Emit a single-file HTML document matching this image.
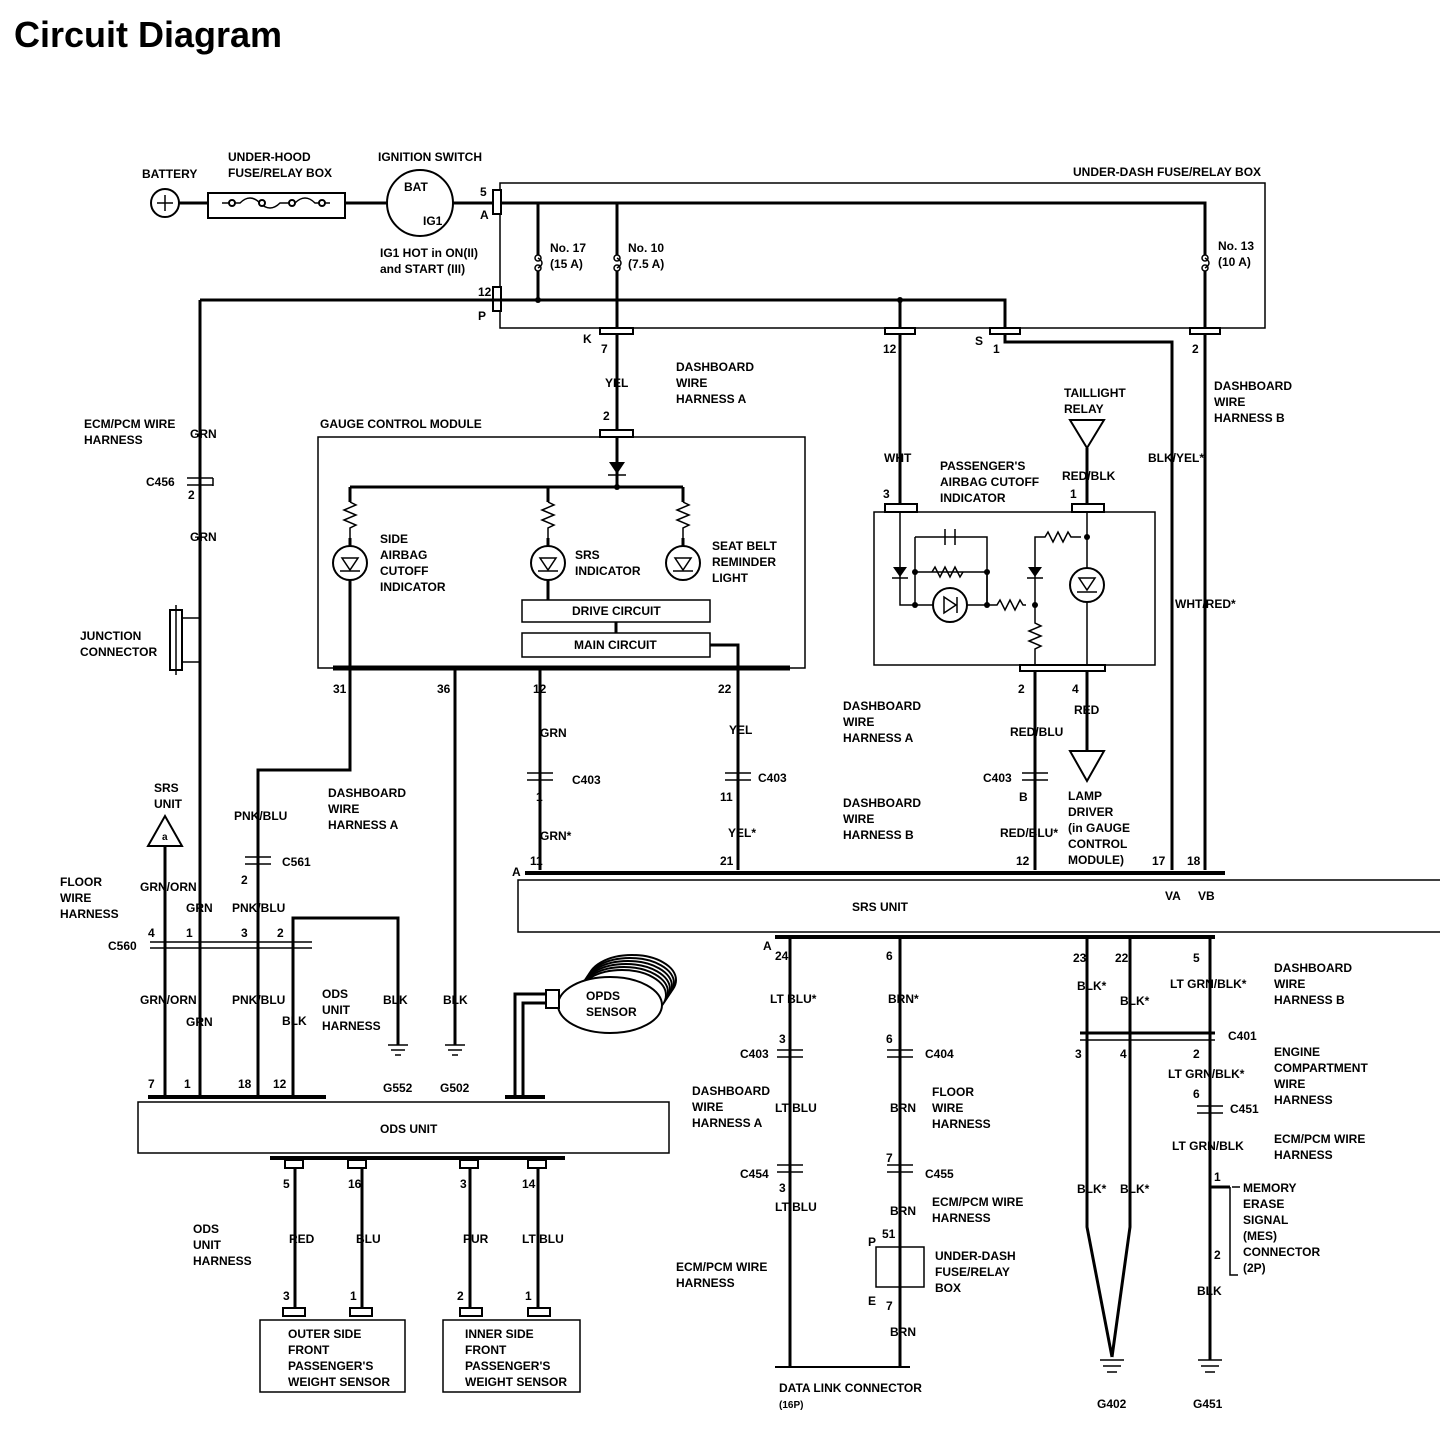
<!DOCTYPE html>
<html><head><meta charset="utf-8"><style>
body{margin:0;background:#fff}
svg{display:block}
text{font-family:"Liberation Sans",sans-serif;font-weight:bold;font-size:12px;fill:#000}
.w{stroke:#000;stroke-width:3;fill:none}
.t{stroke:#000;stroke-width:1.5;fill:none}
.b{stroke:#000;stroke-width:2;fill:#fff}
</style></head><body>
<svg width="1440" height="1454" viewBox="0 0 1440 1454" xmlns="http://www.w3.org/2000/svg">
<text x="14" y="47" style="font-size:36px">Circuit Diagram</text>

<!-- battery & top -->
<text x="142" y="178">BATTERY</text>
<circle cx="165" cy="203" r="14" class="b"/>
<path d="M157 203h16M165 195v16" class="t"/>
<text x="228" y="161">UNDER-HOOD</text><text x="228" y="177">FUSE/RELAY BOX</text>
<rect x="208" y="193" width="137" height="25" class="b"/>
<path d="M179 203h29M345 203h42" class="w"/>
<path d="M222 203h18q10-10 20 0q10 10 20 0h15q10-10 20 0h15" class="t"/>
<circle cx="232" cy="203" r="3" class="b"/><circle cx="262" cy="203" r="3" class="b"/><circle cx="292" cy="203" r="3" class="b"/><circle cx="322" cy="203" r="3" class="b"/>
<text x="378" y="161">IGNITION SWITCH</text>
<circle cx="420" cy="203" r="33" class="b"/>
<text x="404" y="191">BAT</text><text x="423" y="225">IG1</text>
<text x="380" y="257">IG1 HOT in ON(II)</text><text x="380" y="273">and START (III)</text>
<path d="M453 203h47" class="w"/>
<text x="480" y="196">5</text><text x="480" y="219">A</text>
<text x="1073" y="176">UNDER-DASH FUSE/RELAY BOX</text>
<rect x="500" y="183" width="765" height="145" class="t"/>
<rect x="493" y="190" width="8" height="24" class="b"/>
<path d="M500 203h705v52M538 203v52M617 203v52" class="w"/>
<g class="t"><circle cx="538" cy="258" r="3"/><circle cx="538" cy="268" r="3"/><circle cx="617" cy="258" r="3"/><circle cx="617" cy="268" r="3"/><circle cx="1205" cy="258" r="3"/><circle cx="1205" cy="268" r="3"/>
<path d="M538 258q8 5 0 10M617 258q8 5 0 10M1205 258q8 5 0 10"/></g>
<path d="M538 271v29M617 271v60M1205 271v60" class="w"/>
<text x="550" y="252">No. 17</text><text x="550" y="268">(15 A)</text>
<text x="628" y="252">No. 10</text><text x="628" y="268">(7.5 A)</text>
<text x="1218" y="250">No. 13</text><text x="1218" y="266">(10 A)</text>
<text x="478" y="296">12</text><text x="478" y="320">P</text>
<rect x="493" y="287" width="8" height="24" class="b"/>
<path d="M200 300h805v30M200 300v797" class="w"/>
<circle cx="538" cy="300" r="3" fill="#000"/><circle cx="900" cy="300" r="3" fill="#000"/>
<path d="M900 300v30" class="w"/>
<rect x="600" y="328" width="33" height="6" class="b"/><rect x="885" y="328" width="30" height="6" class="b"/><rect x="990" y="328" width="30" height="6" class="b"/><rect x="1190" y="328" width="30" height="6" class="b"/>
<text x="583" y="343">K</text><text x="601" y="353">7</text><text x="883" y="353">12</text><text x="975" y="345">S</text><text x="993" y="353">1</text><text x="1192" y="353">2</text>
<path d="M617 334v96M900 334v170M1005 334v8h167v528M1205 334v536" class="w"/>
<text x="605" y="387">YEL</text>
<text x="676" y="371">DASHBOARD</text><text x="676" y="387">WIRE</text><text x="676" y="403">HARNESS A</text>
<text x="603" y="420">2</text>
<text x="1214" y="390">DASHBOARD</text><text x="1214" y="406">WIRE</text><text x="1214" y="422">HARNESS B</text>
<text x="1148" y="462">BLK/YEL*</text>
<text x="1175" y="608">WHT/RED*</text>

<!-- ECM left -->
<text x="84" y="428">ECM/PCM WIRE</text><text x="84" y="444">HARNESS</text>
<text x="190" y="438">GRN</text>
<path d="M187 478h26M187 485h26" class="t"/><path d="M213 478v8" class="t"/>
<text x="146" y="486">C456</text><text x="188" y="499">2</text>
<text x="190" y="541">GRN</text>
<text x="80" y="640">JUNCTION</text><text x="80" y="656">CONNECTOR</text>
<rect x="170" y="610" width="12" height="60" class="b"/><path d="M176 605v70M182 618h18v44h-18" class="t"/>

<!-- gauge control module -->
<text x="320" y="428">GAUGE CONTROL MODULE</text>
<rect x="318" y="437" width="487" height="231" class="t"/>
<rect x="600" y="430" width="33" height="7" class="b"/>
<path d="M617 437v50" class="w"/>
<path d="M609 462h16l-8 12z" fill="#000"/><path d="M608 475h18" class="t"/>
<path d="M350 487h333M350 487v15M548 487v15M683 487v15" class="w"/>
<circle cx="617" cy="487" r="3" fill="#000"/>
<path d="M350 502l6 3-12 5 12 5-12 5 12 5-6 3v10M548 502l6 3-12 5 12 5-12 5 12 5-6 3v10M683 502l6 3-12 5 12 5-12 5 12 5-6 3v10" class="t"/>
<circle cx="350" cy="563" r="17" class="b"/><circle cx="548" cy="563" r="17" class="b"/><circle cx="683" cy="563" r="17" class="b"/>
<path d="M342 558h16l-8 12zM540 558h16l-8 12zM675 558h16l-8 12z" class="t"/><path d="M340 571h20M538 571h20M673 571h20" class="t"/>
<path d="M350 546v-8M548 546v-8M683 546v-8M350 580v88M548 580v20" class="w"/>
<text x="380" y="543">SIDE</text><text x="380" y="559">AIRBAG</text><text x="380" y="575">CUTOFF</text><text x="380" y="591">INDICATOR</text>
<text x="575" y="559">SRS</text><text x="575" y="575">INDICATOR</text>
<text x="712" y="550">SEAT BELT</text><text x="712" y="566">REMINDER</text><text x="712" y="582">LIGHT</text>
<rect x="522" y="600" width="188" height="22" class="t"/><text x="572" y="615">DRIVE CIRCUIT</text>
<rect x="522" y="633" width="188" height="24" class="t"/><text x="574" y="649">MAIN CIRCUIT</text>
<path d="M616 622v11M710 645h28v23" class="w"/>
<path d="M333 668h457" stroke="#000" stroke-width="5"/>
<text x="333" y="693">31</text><text x="437" y="693">36</text><text x="533" y="693">12</text><text x="718" y="693">22</text>
<path d="M350 668v102h-92v327M455 668v377M540 668v202M738 668v202" class="w"/>
<text x="540" y="737">GRN</text><text x="729" y="734">YEL</text>
<path d="M527 773h26M527 780h26M725 773h26M725 780h26" class="t"/>
<text x="572" y="784">C403</text><text x="758" y="782">C403</text>
<text x="536" y="801">1</text><text x="720" y="801">11</text>
<text x="540" y="840">GRN*</text><text x="728" y="837">YEL*</text>
<text x="530" y="865">11</text><text x="720" y="865">21</text>
<text x="234" y="820">PNK/BLU</text>
<text x="328" y="797">DASHBOARD</text><text x="328" y="813">WIRE</text><text x="328" y="829">HARNESS A</text>
<path d="M245 857h26M245 864h26" class="t"/><text x="282" y="866">C561</text><text x="241" y="884">2</text>
<text x="232" y="912">PNK/BLU</text>

<!-- airbag indicator -->
<text x="884" y="462">WHT</text><text x="883" y="498">3</text>
<text x="940" y="470">PASSENGER'S</text><text x="940" y="486">AIRBAG CUTOFF</text><text x="940" y="502">INDICATOR</text>
<text x="1064" y="397">TAILLIGHT</text><text x="1064" y="413">RELAY</text>
<path d="M1070 420h34l-17 28z" class="b"/>
<path d="M1087 448v57" class="w"/>
<text x="1062" y="480">RED/BLK</text><text x="1070" y="498">1</text>
<rect x="874" y="512" width="281" height="153" class="t"/>
<rect x="885" y="504" width="32" height="8" class="b"/><rect x="1072" y="504" width="32" height="8" class="b"/>
<path d="M900 512v93h87v-50M915 605v-50M915 537h72v18M915 537v18M987 555v17h-72" class="t" stroke-width="2"/>
<path d="M987 572v33" class="t" stroke-width="2"/>
<path d="M945 529v16M955 529v16" class="t" stroke-width="3"/>
<path d="M932 572l3-5 5 10 5-10 5 10 5-10 5 10 3-5" class="t"/>
<path d="M893 567h14l-7 10zM1028 567h14l-7 10z" fill="#000"/><path d="M892 578h16M1027 578h16" class="t"/>
<circle cx="950" cy="605" r="17" class="b"/><path d="M944 597v16l12-8z M957 597v16" class="t"/>
<path d="M987 605h10l3-5 5 10 5-10 5 10 5-10 3 5h3M1035 605v-68h10l3-5 5 10 5-10 5 10 5-10 3 5h10" class="t" stroke-width="2"/>
<path d="M1035 605v18l6 3-12 5 12 5-12 5 12 5-6 3v18M1087 512v160" class="t" stroke-width="2"/>
<circle cx="915" cy="572" r="3" fill="#000"/><circle cx="987" cy="572" r="3" fill="#000"/><circle cx="915" cy="605" r="3" fill="#000"/><circle cx="987" cy="605" r="3" fill="#000"/><circle cx="1035" cy="605" r="3" fill="#000"/><circle cx="1087" cy="537" r="3" fill="#000"/>
<circle cx="1087" cy="585" r="17" class="b"/><path d="M1079 578h16l-8 12z" class="t"/><path d="M1077 592h20" class="t"/>
<rect x="1020" y="665" width="85" height="6" class="b"/>
<path d="M1035 671v199M1087 671v80" class="w"/>
<path d="M1070 751h34l-17 30z" class="b"/>
<text x="1018" y="693">2</text><text x="1072" y="693">4</text>
<text x="1074" y="714">RED</text><text x="1010" y="736">RED/BLU</text>
<path d="M1022 773h26M1022 780h26" class="t"/><text x="983" y="782">C403</text><text x="1019" y="801">B</text>
<text x="1000" y="837">RED/BLU*</text><text x="1016" y="865">12</text>
<text x="1068" y="800">LAMP</text><text x="1068" y="816">DRIVER</text><text x="1068" y="832">(in GAUGE</text><text x="1068" y="848">CONTROL</text><text x="1068" y="864">MODULE)</text>
<text x="843" y="710">DASHBOARD</text><text x="843" y="726">WIRE</text><text x="843" y="742">HARNESS A</text>
<text x="843" y="807">DASHBOARD</text><text x="843" y="823">WIRE</text><text x="843" y="839">HARNESS B</text>
<text x="1152" y="865">17</text><text x="1187" y="865">18</text>

<!-- SRS unit -->
<text x="512" y="876">A</text>
<path d="M525 873h700" stroke="#000" stroke-width="4"/>
<path d="M1440 880H518v52h922" class="t"/>
<text x="852" y="911">SRS UNIT</text><text x="1165" y="900">VA</text><text x="1198" y="900">VB</text>
<path d="M775 937h440" stroke="#000" stroke-width="4"/>
<text x="763" y="950">A</text>
<text x="775" y="960">24</text><text x="886" y="960">6</text><text x="1073" y="962">23</text><text x="1115" y="962">22</text><text x="1193" y="962">5</text>

<!-- left harness -->
<text x="154" y="792">SRS</text><text x="154" y="808">UNIT</text>
<path d="M148 846h34l-17-30z" class="b"/><text x="162" y="840" style="font-size:10px">a</text>
<path d="M165 846v251" class="w"/>
<text x="60" y="886">FLOOR</text><text x="60" y="902">WIRE</text><text x="60" y="918">HARNESS</text>
<text x="140" y="891">GRN/ORN</text><text x="186" y="912">GRN</text>
<text x="148" y="937">4</text><text x="186" y="937">1</text><text x="241" y="937">3</text><text x="277" y="937">2</text>
<path d="M150 942h162M150 948h162" class="t"/><text x="108" y="950">C560</text>
<path d="M293 948v-30h105v127M293 918v179" class="w"/>
<text x="140" y="1004">GRN/ORN</text><text x="186" y="1026">GRN</text><text x="232" y="1004">PNK/BLU</text><text x="282" y="1025">BLK</text>
<text x="322" y="998">ODS</text><text x="322" y="1014">UNIT</text><text x="322" y="1030">HARNESS</text>
<text x="383" y="1004">BLK</text><text x="443" y="1004">BLK</text>
<path d="M388 1045h20M391 1050h14M395 1055h6M445 1045h20M448 1050h14M452 1055h6" class="t" stroke-width="2"/>
<text x="383" y="1092">G552</text><text x="440" y="1092">G502</text>
<text x="148" y="1088">7</text><text x="184" y="1088">1</text><text x="238" y="1088">18</text><text x="273" y="1088">12</text>
<path d="M148 1097h178" stroke="#000" stroke-width="4"/>
<rect x="138" y="1102" width="531" height="51" class="t"/>
<text x="380" y="1133">ODS UNIT</text>
<path d="M505 1097h40" stroke="#000" stroke-width="4"/>
<path d="M515 1097v-103h32M523 1097v-94h24" class="w"/>
<!-- OPDS sensor -->
<g class="b" stroke-width="1.5">
<ellipse cx="632" cy="980" rx="44" ry="25"/>
<ellipse cx="630" cy="983" rx="44" ry="25"/>
<ellipse cx="628" cy="986" rx="44" ry="25"/>
<ellipse cx="626" cy="989" rx="44" ry="25"/>
<ellipse cx="624" cy="992" rx="44" ry="25"/>
<ellipse cx="622" cy="995" rx="44" ry="25"/>
</g>
<ellipse cx="610" cy="1005" rx="52" ry="28" class="b"/>
<rect x="546" y="990" width="13" height="18" class="b"/>
<text x="586" y="1000">OPDS</text><text x="586" y="1016">SENSOR</text>
<path d="M270 1158h295" stroke="#000" stroke-width="4"/>
<rect x="285" y="1160" width="18" height="8" class="b"/><rect x="348" y="1160" width="18" height="8" class="b"/><rect x="460" y="1160" width="18" height="8" class="b"/><rect x="528" y="1160" width="18" height="8" class="b"/>
<path d="M295 1168v140M362 1168v140M470 1168v140M538 1168v140" class="w"/>
<text x="283" y="1188">5</text><text x="348" y="1188">16</text><text x="460" y="1188">3</text><text x="522" y="1188">14</text>
<text x="193" y="1233">ODS</text><text x="193" y="1249">UNIT</text><text x="193" y="1265">HARNESS</text>
<text x="289" y="1243">RED</text><text x="356" y="1243">BLU</text><text x="463" y="1243">PUR</text><text x="522" y="1243">LT BLU</text>
<text x="283" y="1300">3</text><text x="350" y="1300">1</text><text x="457" y="1300">2</text><text x="525" y="1300">1</text>
<rect x="283" y="1308" width="22" height="8" class="b"/><rect x="350" y="1308" width="22" height="8" class="b"/><rect x="460" y="1308" width="22" height="8" class="b"/><rect x="528" y="1308" width="22" height="8" class="b"/>
<rect x="260" y="1320" width="145" height="72" class="t"/><rect x="443" y="1320" width="137" height="72" class="t"/>
<text x="288" y="1338">OUTER SIDE</text><text x="288" y="1354">FRONT</text><text x="288" y="1370">PASSENGER'S</text><text x="288" y="1386">WEIGHT SENSOR</text>
<text x="465" y="1338">INNER SIDE</text><text x="465" y="1354">FRONT</text><text x="465" y="1370">PASSENGER'S</text><text x="465" y="1386">WEIGHT SENSOR</text>

<!-- lower middle -->
<path d="M790 937v430M900 937v310M1087 937v290l25 130M1130 937v290l-18 130M1210 937v250h20M1210 1187v173" class="w"/>
<path d="M1080 1033h135" stroke="#000" stroke-width="3"/><path d="M1080 1040h135" stroke="#000" stroke-width="1.5"/>
<text x="1228" y="1040">C401</text>
<text x="770" y="1003">LT BLU*</text><text x="888" y="1003">BRN*</text>
<text x="1077" y="990">BLK*</text><text x="1120" y="1005">BLK*</text><text x="1170" y="988">LT GRN/BLK*</text>
<text x="1274" y="972">DASHBOARD</text><text x="1274" y="988">WIRE</text><text x="1274" y="1004">HARNESS B</text>
<text x="779" y="1043">3</text><text x="886" y="1043">6</text>
<path d="M777 1050h26M777 1057h26M887 1050h26M887 1057h26" class="t"/>
<text x="740" y="1058">C403</text><text x="925" y="1058">C404</text>
<text x="1075" y="1058">3</text><text x="1120" y="1058">4</text><text x="1193" y="1058">2</text>
<text x="1274" y="1056">ENGINE</text><text x="1274" y="1072">COMPARTMENT</text><text x="1274" y="1088">WIRE</text><text x="1274" y="1104">HARNESS</text>
<text x="1168" y="1078">LT GRN/BLK*</text><text x="1193" y="1098">6</text>
<path d="M1197 1106h26M1197 1113h26" class="t"/><text x="1230" y="1113">C451</text>
<text x="1172" y="1150">LT GRN/BLK</text>
<text x="1274" y="1143">ECM/PCM WIRE</text><text x="1274" y="1159">HARNESS</text>
<text x="692" y="1095">DASHBOARD</text><text x="692" y="1111">WIRE</text><text x="692" y="1127">HARNESS A</text>
<text x="775" y="1112">LT BLU</text><text x="890" y="1112">BRN</text>
<text x="932" y="1096">FLOOR</text><text x="932" y="1112">WIRE</text><text x="932" y="1128">HARNESS</text>
<text x="886" y="1162">7</text>
<path d="M777 1165h26M777 1172h26M887 1165h26M887 1172h26" class="t"/>
<text x="740" y="1178">C454</text><text x="925" y="1178">C455</text>
<text x="779" y="1192">3</text><text x="775" y="1211">LT BLU</text><text x="890" y="1215">BRN</text>
<text x="932" y="1206">ECM/PCM WIRE</text><text x="932" y="1222">HARNESS</text>
<text x="882" y="1238">51</text><text x="868" y="1246">P</text>
<rect x="876" y="1247" width="48" height="40" class="t"/><path d="M900 1247v40" class="w"/>
<text x="935" y="1260">UNDER-DASH</text><text x="935" y="1276">FUSE/RELAY</text><text x="935" y="1292">BOX</text>
<text x="868" y="1305">E</text><text x="886" y="1310">7</text>
<path d="M900 1287v80" class="w"/><text x="890" y="1336">BRN</text>
<text x="676" y="1271">ECM/PCM WIRE</text><text x="676" y="1287">HARNESS</text>
<text x="1077" y="1193">BLK*</text><text x="1120" y="1193">BLK*</text>
<text x="1214" y="1181">1</text>
<path d="M1230 1187v88h8M1232 1187h8" class="t"/>
<text x="1243" y="1192">MEMORY</text><text x="1243" y="1208">ERASE</text><text x="1243" y="1224">SIGNAL</text><text x="1243" y="1240">(MES)</text><text x="1243" y="1256">CONNECTOR</text><text x="1243" y="1272">(2P)</text>
<text x="1214" y="1259">2</text><text x="1197" y="1295">BLK</text>
<path d="M775 1367h135" stroke="#000" stroke-width="2"/>
<text x="779" y="1392">DATA LINK CONNECTOR</text><text x="779" y="1408" style="font-size:10px">(16P)</text>
<path d="M1100 1360h24M1103 1366h18M1107 1372h10M1198 1360h24M1201 1366h18M1205 1372h10" class="t" stroke-width="2"/>
<text x="1097" y="1408">G402</text><text x="1193" y="1408">G451</text>
</svg>
</body></html>
